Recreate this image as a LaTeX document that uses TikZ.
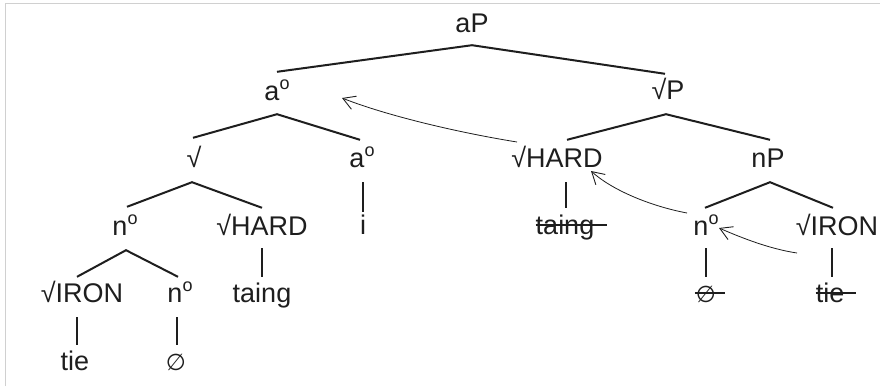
\documentclass[tikz,border=0pt]{standalone}
\usepackage{fontspec}
\setmainfont{Liberation Sans}
\newfontfamily\djv{DejaVu Sans}
\usetikzlibrary{arrows.meta,calc}
\definecolor{ink}{HTML}{1E1E1E}
\definecolor{framegray}{HTML}{D0D0D0}
\newcommand\supo{\raisebox{10.5pt}{\fontsize{18}{20}\selectfont o}}
\begin{document}
\begin{tikzpicture}[x=1pt,y=-1pt,
  lbl/.style={anchor=base, inner sep=0pt, text height=20pt, text depth=0pt,
              font=\fontsize{27}{32}\selectfont, text=ink},
  br/.style={line width=2pt, draw=ink},
  strike/.style={line width=1.6pt, draw=ink},
  arr/.style={draw=ink, line width=0.8pt, -{Straight Barb[length=12pt,width=14pt,line width=0.9pt]}},
  nullsym/.style={font=\djv\fontsize{23}{26}\selectfont}]
\useasboundingbox (0,0) rectangle (880,386);
\draw[framegray, line width=1pt] (5,386) -- (5,3) -- (880,3);

% nodes
\node[lbl] (aP) at (472,32) {aP};
\node[lbl] (a1) at (277,100) {a\supo};
\node[lbl] (rP) at (668,99) {√P};
\node[lbl] (rt) at (194,167) {√};
\node[lbl] (a2) at (362,167) {a\supo};
\node[lbl] (hard2) at (557,167) {√HARD};
\node[lbl] (nP) at (768,167) {nP};
\node[lbl] (n1) at (125,235) {n\supo};
\node[lbl] (hard1) at (262,235) {√HARD};
\node[lbl] (iv) at (363,234) {i};
\node[lbl] (taing2) at (565,234) {taing};
\node[lbl] (n2) at (706,235) {n\supo};
\node[lbl] (iron2) at (837,235) {√IRON};
\node[lbl] (iron1) at (82,302) {√IRON};
\node[lbl] (n3) at (180,302) {n\supo};
\node[lbl] (taing1) at (262,302) {taing};
\node[lbl,nullsym] (null2) at (706,302) {∅};
\node[lbl] (tie2) at (830,302) {tie};
\node[lbl] (tie1) at (75,370) {tie};
\node[lbl,nullsym] (null1) at (176,370) {∅};

% branches
\draw[br] ($(a1.north)+(0,-8)$) -- ($(aP.south)+(0,13)$) -- ($(rP.north)+(-3,-5)$);
\draw[br] ($(rt.north)+(-1,-9)$) -- ($(a1.south)+(0,14)$) -- ($(a2.north)+(-2,-7)$);
\draw[br] ($(hard2.north)+(10,-7)$) -- ($(rP.south)+(-2,15)$) -- ($(nP.north)+(2,-7)$);
\draw[br] ($(n1.north)+(2,-8)$) -- ($(rt.south)+(-2,15)$) -- ($(hard1.north)+(0,-7)$);
\draw[br] ($(n2.north)+(-1,-7)$) -- ($(nP.south)+(2,15)$) -- ($(iron2.north)+(-4,-7)$);
\draw[br] ($(iron1.north)+(-5,-5)$) -- ($(n1.south)+(1,15)$) -- ($(n3.north)+(-2,-5)$);

% vertical lines
\draw[br] ($(iv.north |- a2.south)+(0,15)$) -- ($(iv.north)+(0,-2)$);
\draw[br] ($(taing1.north |- hard1.south)+(0,13)$) -- ($(taing1.north)+(0,-5)$);
\draw[br] ($(taing2.north |- hard2.south)+(1,15)$) -- ($(taing2.north)+(1,-6)$);
\draw[br] ($(n2.north |- n2.south)+(0,13)$) -- ($(null2.north)+(0,-5)$);
\draw[br] ($(tie2.north |- iron2.south)+(2,13)$) -- ($(tie2.north)+(2,-5)$);
\draw[br] ($(tie1.north |- iron1.south)+(2,15)$) -- ($(tie1.north)+(2,-5)$);
\draw[br] ($(null1.north |- n3.south)+(1,15)$) -- ($(null1.north)+(1,-5)$);

% strike-throughs
\draw[strike] ($(taing2.south west)+(0,-9)$) -- ($(taing2.south east)+(13,-9)$);
\draw[strike] ($(null2.south west)+(-1,-9)$) -- ($(null2.south east)+(9,-9)$);
\draw[strike] ($(tie2.south west)+(0,-9)$) -- ($(tie2.south east)+(12,-9)$);

% movement arrows
\coordinate (m1s) at (517,142);
\coordinate (m1t) at (342,98);
\coordinate (m2s) at (687,213);
\coordinate (m2t) at (591,171);
\coordinate (m3s) at (797,253);
\coordinate (m3t) at (719,228);
\draw[arr] (m1s) .. controls (455,132) and (385,115) .. (m1t);
\draw[arr] (m2s) .. controls (650,206) and (612,190) .. (m2t);
\draw[arr] (m3s) .. controls (770,249) and (742,238) .. (m3t);
\end{tikzpicture}
\end{document}
